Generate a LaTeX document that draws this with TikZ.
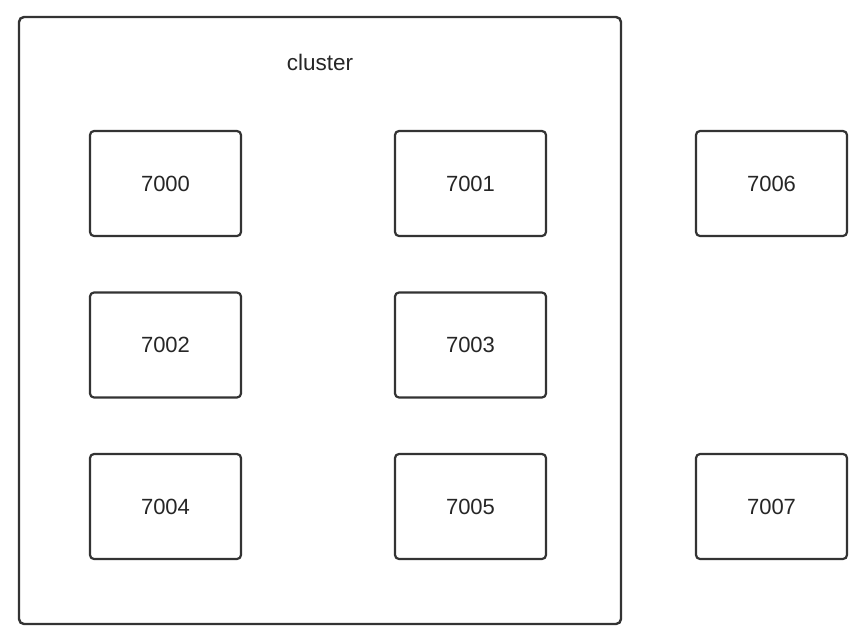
\documentclass[tikz,border=0pt]{standalone}
\usepackage{fontspec}
\setmainfont{Liberation Sans}
\usepackage{tikz}
\usetikzlibrary{positioning}

\begin{document}
\begin{tikzpicture}[x=1pt,y=-1pt,
  port/.style={draw=black!80,line width=2.2pt,rounded corners=4pt,minimum width=151pt,minimum height=105pt,font=\fontsize{22}{26}\selectfont,text=black!85}]
\useasboundingbox (0,0) rectangle (860,635);
\draw[black!80,line width=2.4pt,rounded corners=5pt] (19,17) rectangle (621,624);
\node[font=\fontsize{22.5}{26}\selectfont,text=black!85] (lbl) at (320,62) {cluster};
\node[port] (p0) at (165.5,183.5) {7000};
\node[port] (p1) at (470.5,183.5) {7001};
\node[port] (p6) at (771.5,183.5) {7006};
\node[port] (p2) at (165.5,345) {7002};
\node[port] (p3) at (470.5,345) {7003};
\node[port] (p4) at (165.5,506.5) {7004};
\node[port] (p5) at (470.5,506.5) {7005};
\node[port] (p7) at (771.5,506.5) {7007};
\end{tikzpicture}
\end{document}
